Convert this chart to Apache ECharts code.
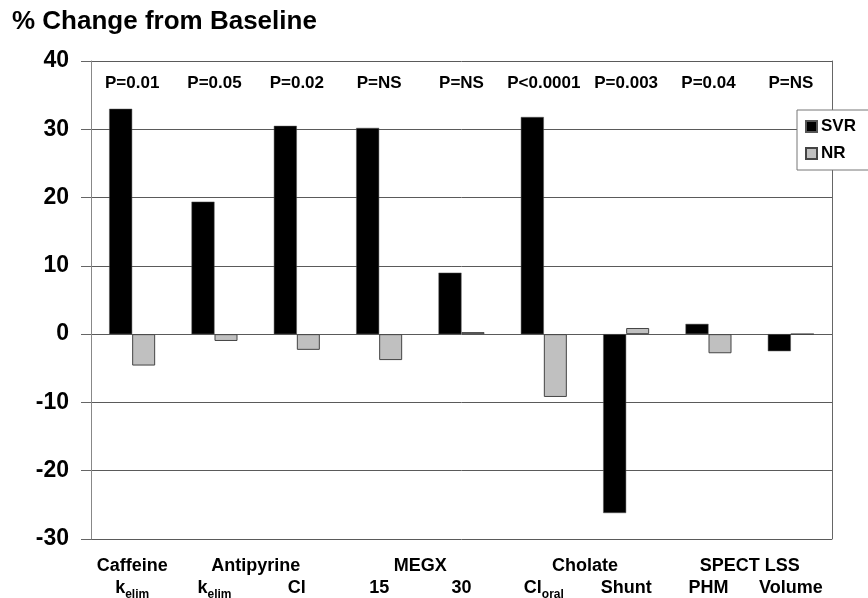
<!DOCTYPE html>
<html>
<head>
<meta charset="utf-8">
<script src="https://cdn.jsdelivr.net/npm/echarts@6/dist/echarts.min.js"></script>
<style>
html,body{margin:0;padding:0;background:#fff;}
#chart{width:868px;height:598px;}
</style>
</head>
<body>
<div id="chart"></div>
<script>
// ---- data ----
const categories = ['Caffeine kelim','Antipyrine kelim','Antipyrine Cl','MEGX 15','MEGX 30','Cholate Cloral','Cholate Shunt','SPECT LSS PHM','SPECT LSS Volume'];
const labelMain = ['k','k','Cl','15','30','Cl','Shunt','PHM','Volume'];
const labelSub  = ['elim','elim','','','','oral','','',''];
const groups = ['Caffeine','Antipyrine','MEGX','Cholate','SPECT LSS'];
const groupFirst = [0,1,3,5,7];
const groupLast  = [0,2,4,6,8];
const pValues = ['P=0.01','P=0.05','P=0.02','P=NS','P=NS','P<0.0001','P=0.003','P=0.04','P=NS'];
const svr = [33.0, 19.4, 30.5, 30.2, 9.0, 31.8, -26.2, 1.5, -2.5];
const nr  = [-4.6, -1.0, -2.3, -3.8, 0.3, -9.2, 0.9, -2.8, 0];
const yMin = -30, yMax = 40, yStep = 10;

// half-category positions for group labels
const halfPoints = [];
for (let i = 0; i <= categories.length * 2; i++) halfPoints.push('');
groups.forEach((g, i) => { halfPoints[groupFirst[i] + groupLast[i] + 1] = g; });

const FF = '"Liberation Sans", Arial, sans-serif';
const chart = echarts.init(document.getElementById('chart'));
chart.setOption({
  animation: false,
  backgroundColor: '#fff',
  textStyle: { fontFamily: FF },
  title: {
    text: '% Change from Baseline',
    left: 7, top: 4,
    textStyle: { fontFamily: FF, fontSize: 26, fontWeight: 'bold', color: '#000' }
  },
  legend: {
    orient: 'vertical',
    left: 797, top: 110,
    data: ['SVR', 'NR'],
    icon: 'rect',
    itemWidth: 11, itemHeight: 11, itemGap: 10,
    padding: [8, 30, 8, 8],
    borderColor: '#777', borderWidth: 1, backgroundColor: '#fff',
    textStyle: { fontFamily: FF, fontSize: 17, fontWeight: 'bold', color: '#000', padding: [0,0,0,-1] }
  },
  grid: { left: 91, right: 36, top: 61, bottom: 59, containLabel: false, outerBoundsMode: 'none' },
  xAxis: [
    {
      type: 'category', data: categories, position: 'bottom',
      axisLine: { show: false }, axisTick: { show: false },
      axisLabel: {
        interval: 0, margin: 40, color: '#000',
        formatter: (v, i) => labelSub[i] ? '{m|' + labelMain[i] + '}{s|' + labelSub[i] + '}' : '{m|' + labelMain[i] + '}',
        rich: {
          m: { fontFamily: FF, fontSize: 18, fontWeight: 'bold', color: '#000', lineHeight: 18, verticalAlign: 'top' },
          s: { fontFamily: FF, fontSize: 12, fontWeight: 'bold', color: '#000', lineHeight: 12, verticalAlign: 'top', padding: [10,0,0,0] }
        }
      }
    },
    {
      type: 'category', data: halfPoints, position: 'bottom', boundaryGap: false,
      axisLine: { show: false }, axisTick: { show: false },
      axisLabel: { interval: 0, margin: 18, color: '#000', fontFamily: FF, fontSize: 18, fontWeight: 'bold' }
    },
    {
      type: 'category', data: pValues, position: 'top',
      axisLine: { show: false }, axisTick: { show: false },
      axisLabel: { inside: true, interval: 0, margin: 14, color: '#000', fontFamily: FF, fontSize: 17, fontWeight: 'bold' }
    }
  ],
  yAxis: [
    {
      type: 'value', min: yMin, max: yMax, interval: yStep,
      axisLine: { show: true, lineStyle: { color: '#888', width: 1 } },
      axisTick: { show: true, length: 10, lineStyle: { color: '#666' } },
      splitLine: { show: true, lineStyle: { color: '#5a5a5a', width: 1 } },
      axisLabel: { margin: 22, color: '#000', fontFamily: FF, fontSize: 23, fontWeight: 'bold' }
    },
    {
      type: 'value', min: yMin, max: yMax, interval: yStep, position: 'right',
      axisLine: { show: true, lineStyle: { color: '#666', width: 1 } },
      axisTick: { show: false }, splitLine: { show: false }, axisLabel: { show: false }
    }
  ],
  series: [
    {
      name: 'SVR', type: 'bar', data: svr, xAxisIndex: 0, yAxisIndex: 0,
      barWidth: 23, barGap: '0%',
      itemStyle: { color: '#000', borderColor: '#555', borderWidth: 0.5 }
    },
    {
      name: 'NR', type: 'bar', data: nr, xAxisIndex: 0, yAxisIndex: 0,
      barWidth: 23, barGap: '0%',
      itemStyle: { color: '#c0c0c0', borderColor: '#444', borderWidth: 1 }
    }
  ]
});
</script>
</body>
</html>
